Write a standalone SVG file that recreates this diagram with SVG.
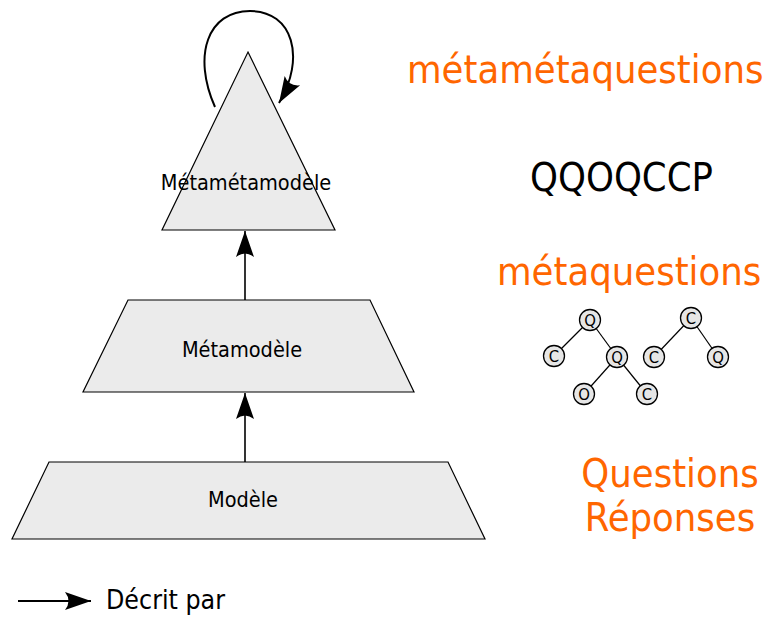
<svg xmlns="http://www.w3.org/2000/svg" width="765" height="617" viewBox="0 0 765 617">
<style>
.shape{fill:#ebebeb;stroke:#000;stroke-width:1.2}
.lbl{font-family:"DejaVu Sans Condensed","DejaVu Sans",sans-serif;font-size:21.5px;fill:#000;text-anchor:middle}
.big{font-family:"DejaVu Sans Condensed","DejaVu Sans",sans-serif;font-size:39.5px}
.org{fill:#ff6600}
.conn{fill:none;stroke:#000;stroke-width:1.6}
.tn circle{fill:#e6e6e6;stroke:#000;stroke-width:1.3}
.tn text{font-family:"DejaVu Sans Condensed","DejaVu Sans",sans-serif;font-size:16.5px;text-anchor:middle;fill:#000}
.te{stroke:#000;stroke-width:1.2}
</style>
<defs>
<marker id="arr" markerUnits="userSpaceOnUse" orient="auto" refX="0" refY="0" markerWidth="30" markerHeight="20" overflow="visible">
<path d="M0,0 L-26,-9 Q-19,0 -26,9 Z" fill="#000"/>
</marker>
</defs>
<g id="metametamodele">
<polygon class="shape" points="248,52 335,230 162,230"/>
<text class="lbl" x="246" y="190">Métamétamodèle</text>
</g>
<g id="metamodele">
<polygon class="shape" points="128,300 370,300 414,392 83,392"/>
<text class="lbl" x="242" y="357">Métamodèle</text>
</g>
<g id="modele">
<polygon class="shape" points="49,462 448,462 485,539 12,539"/>
<text class="lbl" x="243" y="507">Modèle</text>
</g>
<g id="connectors">
<path class="conn" d="M245,300 V231" marker-end="url(#arr)"/>
<path class="conn" d="M245,462 V393" marker-end="url(#arr)"/>
<path class="conn" style="stroke-width:2" d="M215,107 C192,55 208,11 250,11 C293,11 306,58 279,103" marker-end="url(#arr)"/>
</g>
<g id="legend">
<path class="conn" style="stroke-width:2" d="M18,601 H91" marker-end="url(#arr)"/>
<text x="106" y="609" style="font-family:'DejaVu Sans Condensed','DejaVu Sans',sans-serif;font-size:26.5px">Décrit par</text>
</g>
<g id="labels">
<text class="big org" x="407" y="83">métamétaquestions</text>
<text class="big" x="530" y="191">QQOQCCP</text>
<text class="big org" x="497" y="285">métaquestions</text>
<text class="big org" x="670" y="487" text-anchor="middle">Questions</text>
<text class="big org" x="670" y="531" text-anchor="middle">Réponses</text>
</g>
<g id="tree1">
<line class="te" x1="590" y1="320" x2="554" y2="356"/>
<line class="te" x1="590" y1="320" x2="617" y2="357"/>
<line class="te" x1="617" y1="357" x2="584" y2="394"/>
<line class="te" x1="617" y1="357" x2="647" y2="394"/>
<g class="tn"><circle cx="590" cy="320" r="10.5"/><text x="590" y="326">Q</text></g>
<g class="tn"><circle cx="554" cy="356" r="10.5"/><text x="554" y="362">C</text></g>
<g class="tn"><circle cx="617" cy="357" r="10.5"/><text x="617" y="363">Q</text></g>
<g class="tn"><circle cx="584" cy="394" r="10.5"/><text x="584" y="400">O</text></g>
<g class="tn"><circle cx="647" cy="394" r="10.5"/><text x="647" y="400">C</text></g>
</g>
<g id="tree2">
<line class="te" x1="691" y1="318" x2="654" y2="357"/>
<line class="te" x1="691" y1="318" x2="718" y2="357"/>
<g class="tn"><circle cx="691" cy="318" r="10.5"/><text x="691" y="324">C</text></g>
<g class="tn"><circle cx="654" cy="357" r="10.5"/><text x="654" y="363">C</text></g>
<g class="tn"><circle cx="718" cy="357" r="10.5"/><text x="718" y="363">Q</text></g>
</g>
</svg>
